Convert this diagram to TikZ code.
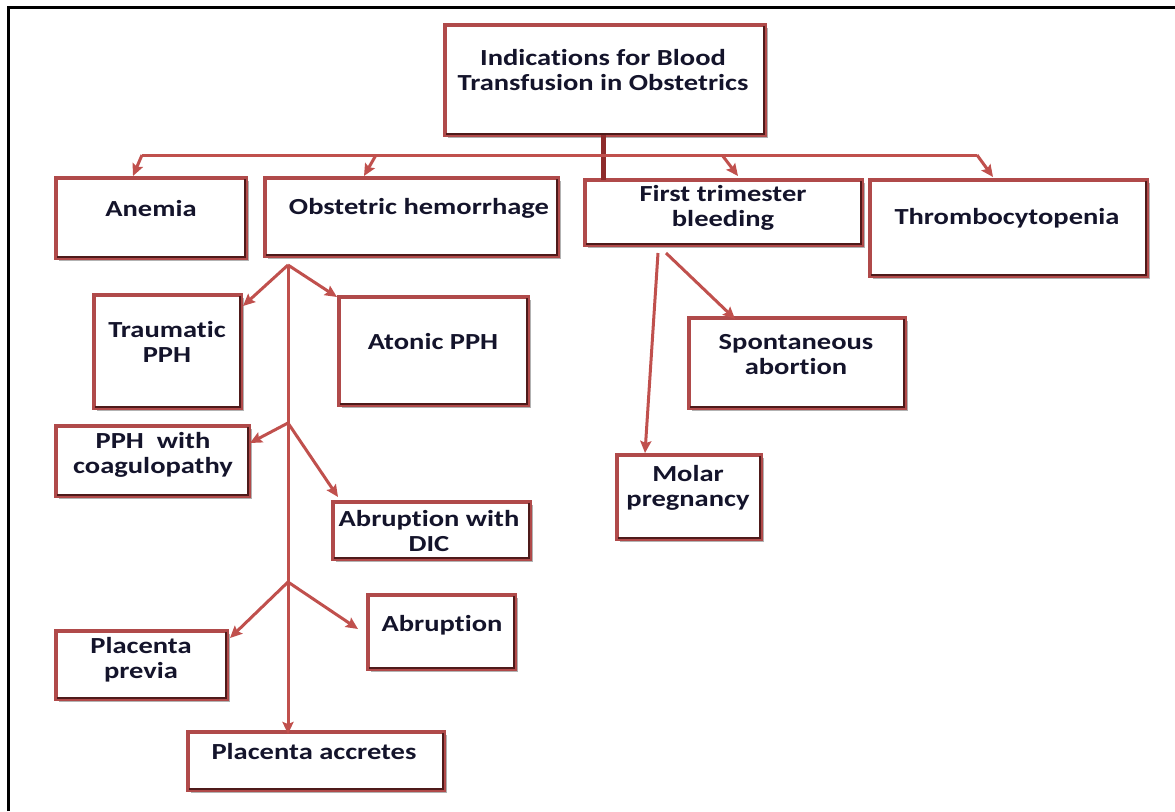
\documentclass[tikz,border=0pt]{standalone}
\usepackage{fontspec}
\setmainfont{Carlito}[FakeStretch=1.24, Ligatures={NoCommon}]
\usetikzlibrary{arrows.meta,calc,shadows}
\definecolor{lnred}{HTML}{C0504D}
\definecolor{boxred}{HTML}{B04A4A}
\definecolor{edgedark}{HTML}{4E1A1A}
\definecolor{stemdark}{HTML}{8E2B2B}
\definecolor{txtcol}{HTML}{14142B}
\begin{document}
\begin{tikzpicture}[x=1pt,y=-1pt,
  box/.style={draw=boxred, line width=4pt, fill=white, inner sep=0pt, outer sep=0pt,
    drop shadow={shadow xshift=2.5pt, shadow yshift=-2.5pt, opacity=.3, fill=black}},
  txt/.style={font=\fontsize{23}{25}\selectfont\bfseries, text=txtcol, align=center, inner sep=0pt},
  conn/.style={draw=lnred, line width=3pt, -{Stealth[length=12pt,width=11pt,inset=2pt]}},
  plain/.style={draw=lnred, line width=3pt},
  darkedge/.style={draw=edgedark, line width=2pt}]
\useasboundingbox (0,0) rectangle (1175,811);
% frame
\draw[line width=3pt] (8,811) -- (8,7) -- (1175,7);

% boxes
\node[box, minimum width=320pt, minimum height=110pt] (title) at (605,80) {};
\node[box, minimum width=190pt, minimum height=80pt] (anemia) at (151,218) {};
\node[box, minimum width=293pt, minimum height=78pt] (hem) at (411.5,217) {};
\node[box, minimum width=277pt, minimum height=65pt] (first) at (723.5,212.5) {};
\node[box, minimum width=277pt, minimum height=96pt] (thromb) at (1008.5,228) {};
\node[box, minimum width=147pt, minimum height=113pt] (traum) at (167.5,351.5) {};
\node[box, minimum width=189pt, minimum height=108pt] (atonic) at (433.5,351) {};
\node[box, minimum width=193pt, minimum height=70pt] (coag) at (152.5,461) {};
\node[box, minimum width=197pt, minimum height=57pt] (dic) at (431.5,530.5) {};
\node[box, minimum width=147pt, minimum height=74pt] (abrupt) at (441.5,632) {};
\node[box, minimum width=171pt, minimum height=68pt] (previa) at (141.5,665) {};
\node[box, minimum width=256pt, minimum height=58pt] (accretes) at (316,761) {};
\node[box, minimum width=216pt, minimum height=90pt] (spont) at (797,363) {};
\node[box, minimum width=144pt, minimum height=84pt] (molar) at (689,497) {};

\foreach \n in {title,anemia,hem,first,thromb,traum,atonic,coag,dic,abrupt,previa,accretes,spont,molar}{
  \draw[darkedge] ($(\n.north east)+(-1.3pt,-1.3pt)$) -- ($(\n.south east)+(-1.3pt,1.3pt)$) -- ($(\n.south west)+(1.3pt,1.3pt)$);
}

% texts
\node[txt] (t-title) at (603,70) {Indications for Blood\\Transfusion in Obstetrics};
\node[txt] (t-anemia) at (151,209) {Anemia};
\node[txt] (t-hem) at (419,208) {Obstetric hemorrhage};
\node[txt] (t-first) at (723,208) {First trimester\\bleeding};
\node[txt] (t-thromb) at (1007,218) {Thrombocytopenia};
\node[txt] (t-traum) at (167,342) {Traumatic\\PPH};
\node[txt] (t-atonic) at (433,342) {Atonic PPH};
\node[txt] (t-coag) at (153,455) {PPH\ \ with\\coagulopathy};
\node[txt] (t-dic) at (429,531) {Abruption with\\DIC};
\node[txt] (t-abrupt) at (442,625) {Abruption};
\node[txt] (t-previa) at (141,660) {Placenta\\previa};
\node[txt] (t-accretes) at (314,752) {Placenta accretes};
\node[txt] (t-spont) at (796,355) {Spontaneous\\abortion};
\node[txt] (t-molar) at (688,488) {Molar\\pregnancy};

% top-level connectors
\coordinate (jA) at (142,155);
\coordinate (jH) at (376,155);
\coordinate (jF) at (722,155);
\coordinate (jT) at (977,155);
\coordinate (aA) at (133,176);
\coordinate (aH) at (364,176);
\coordinate (aF) at (738,176);
\coordinate (aT) at (993,177);
\draw[draw=stemdark, line width=5pt] (title.south -| 603,0) -- (first.north -| 603,0);
\draw[plain] (jA) -- (jT);
\draw[conn] (jA) -- (aA);
\draw[conn] (jH) -- (aH);
\draw[conn] (jF) -- (aF);
\draw[conn] (jT) -- (aT);

% obstetric hemorrhage subtree
\coordinate (b1) at (288,265);
\coordinate (b2) at (288,423);
\coordinate (b3) at (288,582);
\coordinate (e0) at (288,734);
\coordinate (e1) at (243,306);
\coordinate (e2) at (337,297);
\coordinate (e3) at (250,443);
\coordinate (e4) at (338,497);
\coordinate (e5) at (230,638);
\coordinate (e6) at (358,629);
\draw[conn] (b1) -- (e0);
\draw[conn] (b1) -- (e1);
\draw[conn] (b1) -- (e2);
\draw[conn] (b2) -- (e3);
\draw[conn] (b2) -- (e4);
\draw[conn] (b3) -- (e5);
\draw[conn] (b3) -- (e6);

% first trimester subtree
\coordinate (f1) at (658,253);
\coordinate (f2) at (666,253);
\coordinate (g1) at (645,453);
\coordinate (g2) at (735,319);
\draw[conn] (f1) -- (g1);
\draw[conn] (f2) -- (g2);
\end{tikzpicture}
\end{document}
